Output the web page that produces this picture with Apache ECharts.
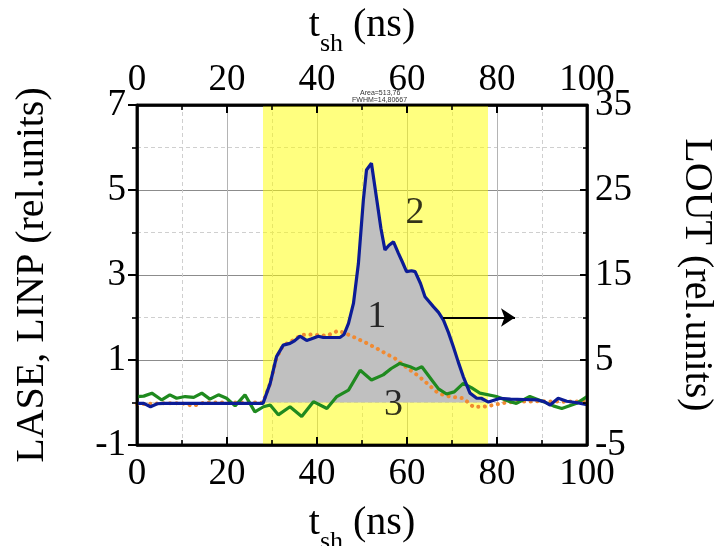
<!DOCTYPE html>
<html>
<head>
<meta charset="utf-8">
<script src="https://cdn.jsdelivr.net/npm/echarts@6/dist/echarts.min.js"></script>
<style>
  html, body { margin: 0; padding: 0; background: #ffffff; }
  #chart { width: 721px; height: 546px; }
</style>
</head>
<body>
<div id="chart"></div>
<script>
// Time axis ticks (ns)
const timeTicks = [0, 20, 40, 60, 80, 100];
const timeMinor = [10, 30, 50, 70, 90];
// Left axis ticks (L_ASE, L_INP) and right axis ticks (L_OUT)
const leftTicks = [-1, 1, 3, 5, 7];
const leftMinor = [0, 2, 4, 6];
const rightTicks = [-5, 5, 15, 25, 35];
const rightMinor = [0, 10, 20, 30];

// Curve 1: L_ASE (left axis, rel. units)
const aseT = [0, 5, 10, 12.5, 15, 20, 25, 28, 29.6, 31, 32.5, 34, 36.6, 39, 42.2, 44.7, 46.5, 48.8, 51, 53.3, 55.3, 57.3, 59, 60.7, 62.2, 63.6, 65, 66.6, 68, 69.5, 71, 72.5, 74.7, 77, 79.2, 82, 85, 90, 95, 100];
const aseV = [-0.04, -0.02, -0.02, -0.08, 0, 0, 0, 0, 0.45, 1.05, 1.35, 1.42, 1.59, 1.6, 1.57, 1.69, 1.62, 1.51, 1.4, 1.27, 1.15, 1.04, 0.9, 0.76, 0.65, 0.53, 0.4, 0.25, 0.18, 0.14, 0.12, 0.1, -0.1, -0.1, -0.06, 0.0, 0.02, 0.03, 0.02, 0.03];

// Curve 2: L_OUT (right axis, rel. units)
const outT = [0, 1.5, 3, 4.5, 6, 10, 15, 20, 25, 28, 29.6, 31, 32.5, 34, 35, 36.2, 37.7, 38.8, 40.3, 41.4, 43, 45.1, 46, 47, 48.1, 49.2, 50.3, 51, 52.1, 53.3, 54.2, 55.1, 56, 57, 58.1, 59, 59.9, 61, 61.8, 63, 64, 65.9, 67, 68.1, 69.2, 70.3, 71.4, 72.5, 74, 75.5, 76.5, 78.1, 80.7, 83, 86, 89, 90.5, 91.8, 93.6, 95.5, 97.5, 100];
const outV = [-0.1, -0.1, -0.5, -0.15, -0.1, -0.1, -0.1, -0.1, -0.1, -0.1, 2.25, 5.4, 6.75, 6.95, 7.25, 7.8, 7.3, 7.5, 7.8, 7.65, 7.65, 7.65, 8.0, 9.3, 11.65, 16.35, 23.8, 27.35, 28.15, 23.8, 20.5, 17.95, 18.5, 18.9, 17.55, 16.5, 15.4, 15.5, 15.4, 14.0, 12.45, 11.25, 10.6, 9.7, 8.25, 6.55, 4.75, 3.05, 1.1, 0.5, 0.5, 0.05, 0.5, 0.4, 0.35, 0.3, 0.1, -0.3, 0.5, 0.15, 0.0, -0.25];

// Curve 3: L_INP (left axis, rel. units)
const inpT = [0, 1.5, 3.3, 5.5, 7.3, 8.8, 10.7, 12.6, 14.4, 16.2, 18.1, 19.9, 21.8, 24, 26.2, 28.1, 29.6, 31.4, 34, 36.6, 39.2, 42.2, 44.4, 47, 49.6, 52.1, 54.7, 56.5, 58.4, 60.7, 62, 63.3, 65.5, 67, 68.8, 70.5, 72.5, 74.3, 76.2, 79.9, 82.9, 84.3, 87.3, 90.3, 92.5, 94.4, 97.7, 100];
const inpV = [0.14, 0.15, 0.22, 0.06, 0.18, 0.10, 0.14, 0.12, 0.22, 0.08, 0.18, 0.10, -0.08, 0.18, -0.22, -0.1, -0.06, -0.29, -0.1, -0.33, 0.02, -0.14, 0.14, 0.29, 0.76, 0.53, 0.65, 0.8, 0.92, 0.84, 0.78, 0.84, 0.53, 0.32, 0.2, 0.25, 0.45, 0.35, 0.22, 0.14, 0.02, -0.02, 0.14, 0.02, -0.08, -0.14, -0.02, 0.14];

// Integration window (ns) shaded in yellow; pulse area filled in grey inside it
const windowRange = [28, 78];

// Curve numbers placed next to the curves (left-axis units)
const tagText = ['1', '2', '3'];
const tagT = [53.3, 61.8, 57];
const tagV = [2.0, 4.46, -0.06];

// Arrow showing that curve 2 belongs to the right axis (left-axis units)
const arrowT = [68, 84];
const arrowV = [2.0, 2.0];

// Fit summary printed above the frame
const fitNotes = ['Area=513,76', 'FWHM=14,80667'];

// Plot box in pixels and axis ranges
const GRID = { left: 137, right: 134, top: 105, bottom: 101 };
const X_RANGE = [0, 100], L_RANGE = [-1, 7], R_RANGE = [-5, 35];
const plotW = 721 - GRID.left - GRID.right;
const plotH = 546 - GRID.top - GRID.bottom;
const unitX = (X_RANGE[1] - X_RANGE[0]) / plotW;   // ns per pixel
const unitY = (L_RANGE[1] - L_RANGE[0]) / plotH;   // left units per pixel
const rightToLeft = r => L_RANGE[0] + (r - R_RANGE[0]) / (R_RANGE[1] - R_RANGE[0]) * (L_RANGE[1] - L_RANGE[0]);

const pairs = (xs, ys) => xs.map((x, i) => [x, ys[i]]);
const fillPts = pairs(outT, outV).filter(p => p[0] >= windowRange[0] && p[0] <= windowRange[1] + 0.2);

// Frame of the plot box, drawn through the axes' scales
const frame = [[X_RANGE[0], L_RANGE[0]], [X_RANGE[1], L_RANGE[0]], [X_RANGE[1], L_RANGE[1]], [X_RANGE[0], L_RANGE[1]], [X_RANGE[0], L_RANGE[0]]];

// Tick segments (lengths in pixels, converted to axis units)
const tickSegs = [];
const seg = (a, b, w) => tickSegs.push({ coords: [a, b], lineStyle: { width: w } });
timeTicks.forEach(v => {
  seg([v, L_RANGE[0]], [v, L_RANGE[0] + 8 * unitY], 2);
  seg([v, L_RANGE[1]], [v, L_RANGE[1] - 8 * unitY], 2);
});
timeMinor.forEach(v => {
  seg([v, L_RANGE[0]], [v, L_RANGE[0] + 5 * unitY], 1.6);
  seg([v, L_RANGE[1]], [v, L_RANGE[1] - 5 * unitY], 1.6);
});
leftTicks.forEach(v => seg([X_RANGE[0], v], [X_RANGE[0] - 9 * unitX, v], 2));
leftMinor.forEach(v => seg([X_RANGE[0], v], [X_RANGE[0] - 5 * unitX, v], 1.6));
rightTicks.forEach(v => seg([X_RANGE[1], rightToLeft(v)], [X_RANGE[1] - 7 * unitX, rightToLeft(v)], 2));
rightMinor.forEach(v => seg([X_RANGE[1], rightToLeft(v)], [X_RANGE[1] - 4 * unitX, rightToLeft(v)], 1.6));

const serif = 'Liberation Serif';
const tickFont = () => ({ fontFamily: serif, fontSize: 37, color: '#000' });
const blackLine = () => ({ show: true, onZero: false, lineStyle: { color: '#000', width: 2.5 } });
const tshName = '{a|t}{s|sh}{a| (ns)}';
const tshRich = () => ({
  a: { fontFamily: serif, fontSize: 40, color: '#000', lineHeight: 52, verticalAlign: 'top' },
  s: { fontFamily: serif, fontSize: 26, color: '#000', lineHeight: 52, verticalAlign: 'bottom' }
});

const chart = echarts.init(document.getElementById('chart'), null, { renderer: 'canvas' });

chart.setOption({
  backgroundColor: '#ffffff',
  animation: false,
  grid: {
    left: GRID.left, right: GRID.right, top: GRID.top, bottom: GRID.bottom,
    containLabel: false, outerBoundsMode: 'none',
    show: true, borderColor: '#000', borderWidth: 2.5, backgroundColor: 'transparent'
  },
  xAxis: [
    {
      type: 'value', position: 'bottom', min: X_RANGE[0], max: X_RANGE[1], interval: 20,
      axisLine: blackLine(), axisTick: { show: false },
      minorTick: { show: false, splitNumber: 2 },
      axisLabel: Object.assign({ margin: 11 }, tickFont()),
      splitLine: { show: true, lineStyle: { color: '#b4b4b4', width: 1 } },
      minorSplitLine: { show: true, lineStyle: { color: '#cfcfcf', width: 1, type: [4, 3] } },
      name: tshName, nameLocation: 'middle', nameGap: 58,
      nameTextStyle: { rich: tshRich() }
    },
    {
      type: 'value', position: 'top', min: X_RANGE[0], max: X_RANGE[1], interval: 20,
      axisLine: blackLine(), axisTick: { show: false },
      minorTick: { show: false, splitNumber: 2 },
      axisLabel: Object.assign({ margin: 6 }, tickFont()),
      splitLine: { show: false },
      name: tshName, nameLocation: 'middle', nameGap: 44,
      nameTextStyle: { rich: tshRich() }
    }
  ],
  yAxis: [
    {
      type: 'value', position: 'left', min: L_RANGE[0], max: L_RANGE[1], interval: 2,
      axisLine: blackLine(), axisTick: { show: false },
      minorTick: { show: false, splitNumber: 2 },
      axisLabel: Object.assign({ margin: 11 }, tickFont()),
      splitLine: { show: true, lineStyle: { color: '#8c8c8c', width: 1 } },
      minorSplitLine: { show: true, lineStyle: { color: '#cfcfcf', width: 1, type: [4, 3] } },
      name: 'LASE, LINP (rel.units)', nameLocation: 'middle', nameGap: 85,
      nameTextStyle: { fontFamily: serif, fontSize: 40, color: '#000' }
    },
    {
      type: 'value', position: 'right', min: R_RANGE[0], max: R_RANGE[1], interval: 10,
      axisLine: blackLine(), axisTick: { show: false },
      minorTick: { show: false, splitNumber: 2 },
      axisLabel: Object.assign({ margin: 8 }, tickFont()),
      splitLine: { show: false },
      name: 'LOUT (rel.units)', nameLocation: 'middle', nameGap: 89, nameRotate: -90,
      nameTextStyle: { fontFamily: serif, fontSize: 40, color: '#000' }
    }
  ],
  graphic: fitNotes.map((t, i) => ({
    type: 'text', left: 360 - (i === 0 ? 0 : 8), top: 90 + i * 7, z: 10,
    style: { text: t, fontFamily: 'Liberation Sans', fontSize: 7, fill: '#333' }
  })),
  series: [
    {
      name: 'window', type: 'line', yAxisIndex: 1, data: fillPts,
      showSymbol: false, symbol: 'none', z: 2,
      lineStyle: { width: 0, opacity: 0 },
      areaStyle: { color: '#c0c0c0', opacity: 1 },
      markArea: {
        silent: true, z: 1,
        itemStyle: { color: 'rgba(255,255,0,0.5)' },
        data: [[{ xAxis: windowRange[0] }, { xAxis: windowRange[1] }]]
      }
    },
    {
      name: 'L_ASE', type: 'line', yAxisIndex: 0, data: pairs(aseT, aseV),
      showSymbol: false, symbol: 'none', z: 3,
      lineStyle: { color: '#f08a32', width: 4, type: [0.1, 6.5], cap: 'round' }
    },
    {
      name: 'L_INP', type: 'line', yAxisIndex: 0, data: pairs(inpT, inpV),
      showSymbol: false, symbol: 'none', z: 4,
      lineStyle: { color: '#1f8a1f', width: 3.2 }
    },
    {
      name: 'L_OUT', type: 'line', yAxisIndex: 1, data: pairs(outT, outV),
      showSymbol: false, symbol: 'none', z: 5,
      lineStyle: { color: '#0c1c96', width: 3.2 }
    },
    {
      name: 'arrow', type: 'lines', coordinateSystem: 'cartesian2d', xAxisIndex: 0, yAxisIndex: 0, z: 6,
      symbol: ['none', 'arrow'], symbolSize: [0, 14],
      lineStyle: { color: '#000', width: 2, opacity: 1 },
      data: [{ coords: pairs(arrowT, arrowV) }]
    },
    {
      name: 'tags', type: 'scatter', yAxisIndex: 0, z: 7, symbolSize: 0,
      data: pairs(tagT, tagV),
      label: {
        show: true, position: 'inside',
        formatter: p => tagText[p.dataIndex],
        fontFamily: serif, fontSize: 38, color: '#000'
      }
    },
    {
      name: 'frame', type: 'line', yAxisIndex: 0, z: 9, clip: false, silent: true,
      data: frame, showSymbol: false, symbol: 'none',
      lineStyle: { color: '#000', width: 2.5 }
    },
    {
      name: 'ticks', type: 'lines', coordinateSystem: 'cartesian2d', xAxisIndex: 0, yAxisIndex: 0,
      z: 9, clip: false, silent: true, symbol: 'none',
      lineStyle: { color: '#000', width: 2, opacity: 1 },
      data: tickSegs
    }
  ]
});
</script>
</body>
</html>
